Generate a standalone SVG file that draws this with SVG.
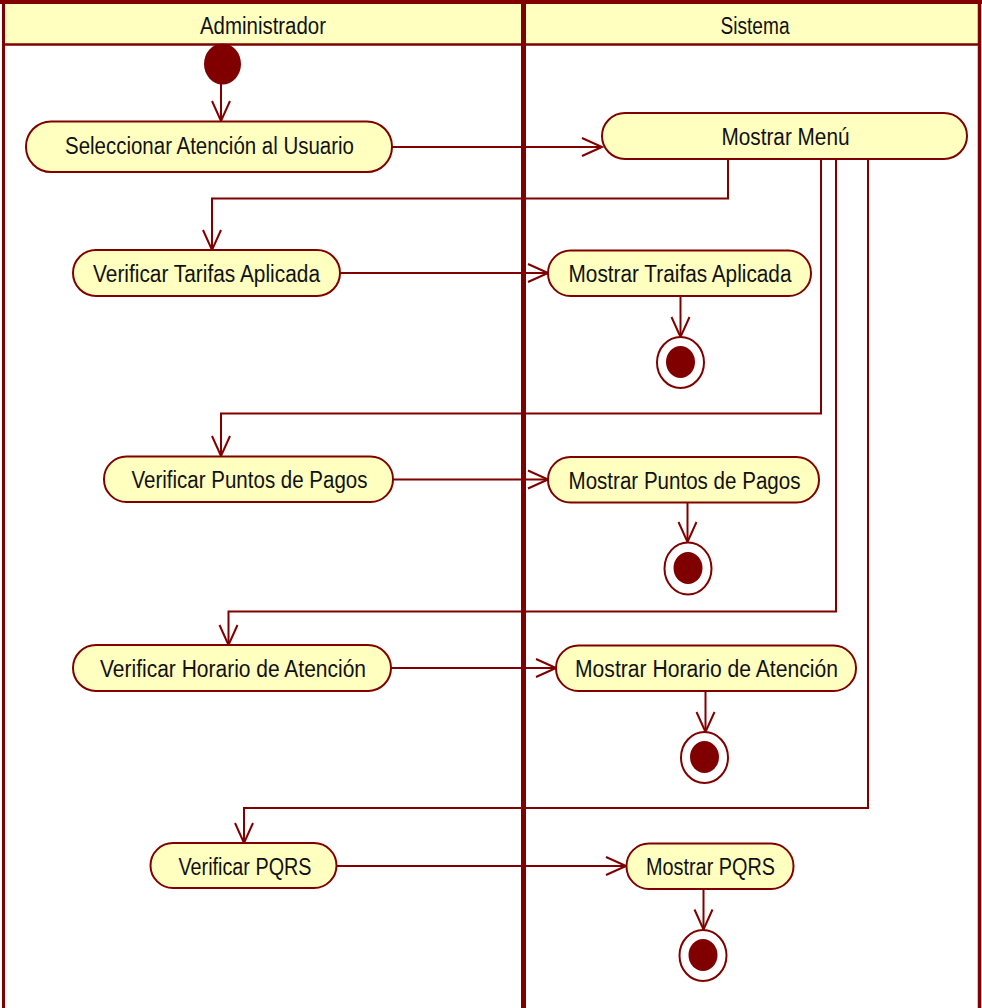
<svg xmlns="http://www.w3.org/2000/svg" width="982" height="1008" viewBox="0 0 982 1008">
  <style>
    .lane-head { fill: #FFFFC0; }
    .frame { fill: none; stroke: #800000; }
    .act rect { fill: #FFFFC0; stroke: #800000; stroke-width: 2; }
    text { font-family: "Liberation Sans", Arial, sans-serif; font-size: 23.5px; fill: #111; text-anchor: middle; }
    .flow { fill: none; stroke: #800000; stroke-width: 2; }
    .final .outer { fill: #fff; stroke: #800000; stroke-width: 2; }
    .final .inner, .initial ellipse { fill: #800000; }
  </style>
  <defs>
    <marker id="arrow" markerUnits="userSpaceOnUse" viewBox="-22 -11 24 22" refX="0" refY="0" markerWidth="24" markerHeight="22" orient="auto">
      <path d="M-20,-9 L0,0 L-20,9" fill="none" stroke="#800000" stroke-width="2"/>
    </marker>
  </defs>

  <rect width="982" height="1008" fill="#fff"/>

  <!-- swimlanes -->
  <g id="lanes">
    <rect class="lane-head" x="3" y="3" width="976" height="41"/>
    <line class="frame" x1="0" y1="2" x2="982" y2="2" stroke-width="4"/>
    <line class="frame" x1="3" y1="44.5" x2="980" y2="44.5" stroke-width="2.5"/>
    <line class="frame" x1="3.5" y1="0" x2="3.5" y2="1008" stroke-width="3"/>
    <line class="frame" x1="523.5" y1="0" x2="523.5" y2="1008" stroke-width="5"/>
    <line class="frame" x1="979.5" y1="0" x2="979.5" y2="1008" stroke-width="3.5"/>
    <text x="263" y="34" textLength="126" lengthAdjust="spacingAndGlyphs">Administrador</text>
    <text x="755" y="34" textLength="69" lengthAdjust="spacingAndGlyphs">Sistema</text>
  </g>

  <!-- control flows -->
  <g id="connectors">
    <line class="flow" x1="221" y1="84" x2="221" y2="121" marker-end="url(#arrow)"/>
    <line class="flow" x1="392" y1="147" x2="602" y2="147" marker-end="url(#arrow)"/>
    <polyline class="flow" points="728,159 728,198.5 212,198.5 212,250" marker-end="url(#arrow)"/>
    <polyline class="flow" points="821,159 821,413.5 221,413.5 221,456" marker-end="url(#arrow)"/>
    <polyline class="flow" points="836,159 836,611.5 228.5,611.5 228.5,645" marker-end="url(#arrow)"/>
    <polyline class="flow" points="868,159 868,808 244,808 244,843" marker-end="url(#arrow)"/>
    <line class="flow" x1="340" y1="273" x2="548" y2="273" marker-end="url(#arrow)"/>
    <line class="flow" x1="393" y1="479.5" x2="548" y2="479.5" marker-end="url(#arrow)"/>
    <line class="flow" x1="391" y1="668" x2="556" y2="668" marker-end="url(#arrow)"/>
    <line class="flow" x1="337" y1="866" x2="626" y2="866" marker-end="url(#arrow)"/>
    <line class="flow" x1="680.5" y1="296" x2="680.5" y2="337" marker-end="url(#arrow)"/>
    <line class="flow" x1="687.5" y1="502.5" x2="687.5" y2="542" marker-end="url(#arrow)"/>
    <line class="flow" x1="705.5" y1="691" x2="705.5" y2="732" marker-end="url(#arrow)"/>
    <line class="flow" x1="703.5" y1="889" x2="703.5" y2="929.5" marker-end="url(#arrow)"/>
  </g>

  <!-- initial node -->
  <g id="start" class="initial">
    <ellipse cx="222.5" cy="64" rx="18.5" ry="20.5"/>
  </g>

  <!-- Administrador activities -->
  <g id="seleccionar-atencion" class="act">
    <rect x="26" y="121.5" width="366" height="50.5" rx="25"/>
    <text x="209.5" y="154" textLength="289" lengthAdjust="spacingAndGlyphs">Seleccionar Atención al Usuario</text>
  </g>
  <g id="verificar-tarifas" class="act">
    <rect x="73" y="250" width="267" height="46" rx="23"/>
    <text x="206.5" y="281.5" textLength="227" lengthAdjust="spacingAndGlyphs">Verificar Tarifas Aplicada</text>
  </g>
  <g id="verificar-puntos" class="act">
    <rect x="104" y="456.5" width="289" height="45.5" rx="22.5"/>
    <text x="249.5" y="488" textLength="236" lengthAdjust="spacingAndGlyphs">Verificar Puntos de Pagos</text>
  </g>
  <g id="verificar-horario" class="act">
    <rect x="73" y="645" width="318" height="46" rx="23"/>
    <text x="233" y="676.5" textLength="266" lengthAdjust="spacingAndGlyphs">Verificar Horario de Atención</text>
  </g>
  <g id="verificar-pqrs" class="act">
    <rect x="150.5" y="843" width="186" height="45" rx="22.5"/>
    <text x="245" y="874.5" textLength="133" lengthAdjust="spacingAndGlyphs">Verificar PQRS</text>
  </g>

  <!-- Sistema activities -->
  <g id="mostrar-menu" class="act">
    <rect x="602" y="113" width="365" height="46" rx="23"/>
    <text x="785.5" y="145" textLength="128" lengthAdjust="spacingAndGlyphs">Mostrar Menú</text>
  </g>
  <g id="mostrar-tarifas" class="act">
    <rect x="548" y="250.5" width="263" height="45.5" rx="22.5"/>
    <text x="680" y="281.5" textLength="223" lengthAdjust="spacingAndGlyphs">Mostrar Traifas Aplicada</text>
  </g>
  <g id="mostrar-puntos" class="act">
    <rect x="548" y="457" width="271" height="45.5" rx="22.5"/>
    <text x="684.5" y="488.5" textLength="232" lengthAdjust="spacingAndGlyphs">Mostrar Puntos de Pagos</text>
  </g>
  <g id="mostrar-horario" class="act">
    <rect x="556" y="645.5" width="300" height="45.5" rx="22.5"/>
    <text x="706.5" y="676.5" textLength="263" lengthAdjust="spacingAndGlyphs">Mostrar Horario de Atención</text>
  </g>
  <g id="mostrar-pqrs" class="act">
    <rect x="626.5" y="843.5" width="167" height="45.5" rx="22.5"/>
    <text x="710.5" y="875" textLength="129" lengthAdjust="spacingAndGlyphs">Mostrar PQRS</text>
  </g>

  <!-- final nodes -->
  <g id="end-tarifas" class="final">
    <ellipse class="outer" cx="680.5" cy="362.5" rx="23.5" ry="25.5"/>
    <ellipse class="inner" cx="680.5" cy="362" rx="14.5" ry="16"/>
  </g>
  <g id="end-puntos" class="final">
    <ellipse class="outer" cx="688" cy="568.5" rx="23.5" ry="26"/>
    <ellipse class="inner" cx="688" cy="568" rx="14.5" ry="16"/>
  </g>
  <g id="end-horario" class="final">
    <ellipse class="outer" cx="704.5" cy="757.5" rx="23.5" ry="25.5"/>
    <ellipse class="inner" cx="704.5" cy="757" rx="14.5" ry="16"/>
  </g>
  <g id="end-pqrs" class="final">
    <ellipse class="outer" cx="703" cy="955.5" rx="23.5" ry="25.5"/>
    <ellipse class="inner" cx="703" cy="955" rx="14.5" ry="16"/>
  </g>
</svg>
